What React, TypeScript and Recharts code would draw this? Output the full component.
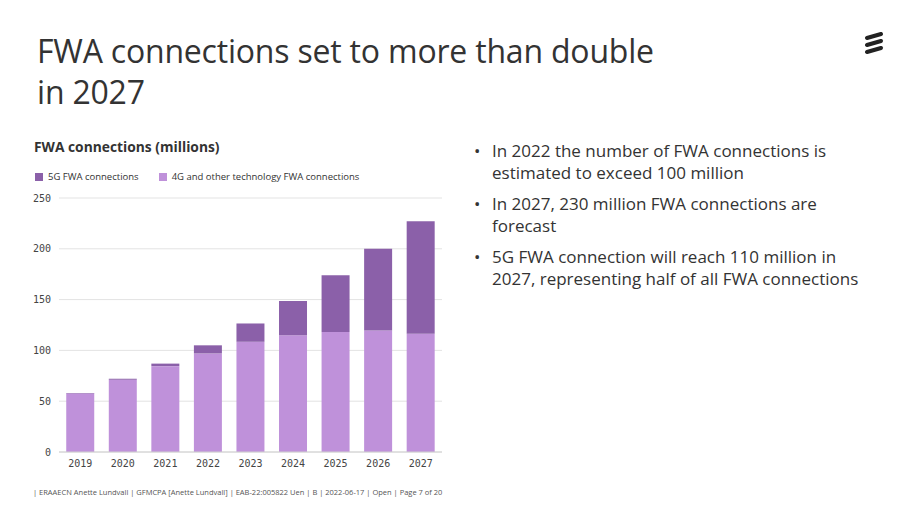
import { Bar, BarChart, CartesianGrid, XAxis, YAxis } from "recharts";

const years = ["2019", "2020", "2021", "2022", "2023", "2024", "2025", "2026", "2027"];
const otherTech = [57.5, 71, 84.5, 97, 108.5, 115, 118, 119.5, 116.5];
const fiveG = [0.5, 1, 2.5, 8, 18, 33.5, 56, 80.5, 110.5];
const yTicks = [0, 50, 100, 150, 200, 250];

const bullets = [
  "In 2022 the number of FWA connections is estimated to exceed 100 million",
  "In 2027, 230 million FWA connections are forecast",
  "5G FWA connection will reach 110 million in 2027, representing half of all FWA connections",
];

const COLOR_5G = "#8b60a9";
const COLOR_4G = "#bf91da";
const TEXT = "#333";
const font = "'Open Sans', 'Noto Sans', sans-serif";

const chartData = years.map((year, i) => ({ year, other: otherTech[i], g5: fiveG[i] }));

function Logo() {
  return (
    <svg width={20} height={24} style={{ position: "absolute", left: 864, top: 32 }}>
      {[4, 11, 18].map((y) => (
        <line key={y} x1={3} y1={y + 2} x2={17} y2={y - 2} stroke="#222" strokeWidth={4} strokeLinecap="round" />
      ))}
    </svg>
  );
}

export default function App() {
  const tickStyle = { fill: "#444", fontSize: 10, fontFamily: "'DejaVu Sans Mono', monospace" };
  return (
    <div style={{ position: "absolute", left: 0, top: 0, width: 914, height: 512, background: "#fff", fontFamily: font, color: TEXT, overflow: "hidden" }}>
      <div style={{ position: "absolute", left: 37, top: 30, fontSize: 32, lineHeight: "41px", fontWeight: 400, letterSpacing: -0.2 }}>
        FWA connections set to more than double
        <br />
        in 2027
      </div>
      <Logo />

      <div style={{ position: "absolute", left: 34, top: 137, fontSize: 13.8, fontWeight: 700 }}>FWA connections (millions)</div>
      <div style={{ position: "absolute", left: 35, top: 170, fontSize: 9.5, display: "flex", alignItems: "center" }}>
        <span style={{ width: 8, height: 8, background: COLOR_5G, display: "inline-block", marginRight: 5 }} />
        <span style={{ marginRight: 20 }}>5G FWA connections</span>
        <span style={{ width: 8, height: 8, background: COLOR_4G, display: "inline-block", marginRight: 5 }} />
        <span>4G and other technology FWA connections</span>
      </div>

      <div style={{ position: "absolute", left: 0, top: 190 }}>
        <BarChart width={460} height={290} data={chartData} margin={{ top: 8, right: 18, left: 0, bottom: 8 }} barCategoryGap="17%">
          <CartesianGrid stroke="#e3e3e3" vertical={false} />
          <XAxis dataKey="year" tick={tickStyle} axisLine={{ stroke: "#d0d0d0" }} tickLine={false} height={20} />
          <YAxis domain={[0, 250]} ticks={yTicks} tick={tickStyle} axisLine={false} tickLine={false} width={59} />
          <Bar dataKey="other" stackId="a" fill={COLOR_4G} isAnimationActive={false} />
          <Bar dataKey="g5" stackId="a" fill={COLOR_5G} isAnimationActive={false} />
        </BarChart>
      </div>

      <ul style={{ position: "absolute", left: 474, top: 140, margin: 0, padding: 0, listStyle: "none", width: 396, fontSize: 17, lineHeight: "22px" }}>
        {bullets.map((b) => (
          <li key={b} style={{ position: "relative", paddingLeft: 18, marginBottom: 9 }}>
            <span style={{ position: "absolute", left: 0 }}>•</span>
            {b}
          </li>
        ))}
      </ul>

      <div style={{ position: "absolute", left: 33, top: 487, fontSize: 7.5, color: "#555" }}>
        | ERAAECN Anette Lundvall | GFMCPA [Anette Lundvall] | EAB-22:005822 Uen | B | 2022-06-17 | Open | Page 7 of 20
      </div>
    </div>
  );
}
